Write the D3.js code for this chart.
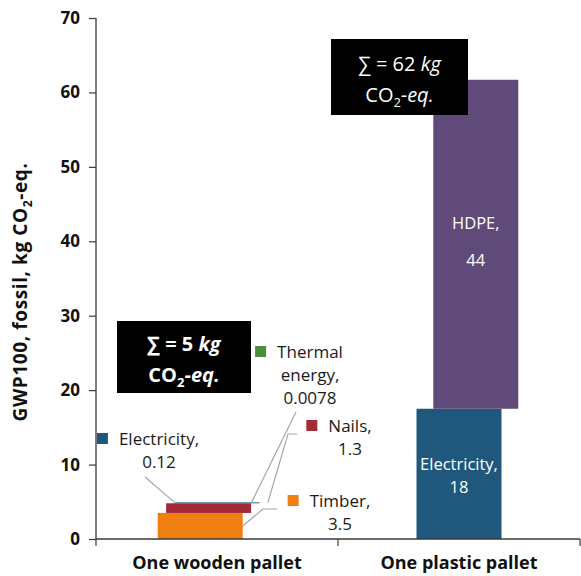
<!DOCTYPE html>
<html>
<head>
<meta charset="utf-8">
<script src="https://cdn.jsdelivr.net/npm/d3@7"></script>
<style>
  html, body { margin: 0; padding: 0; background: #ffffff; }
  svg { display: block; font-family: "Open Sans", "Noto Sans", sans-serif; }
</style>
</head>
<body>
<svg id="chart" width="581" height="576"></svg>
<script>
// ---------------- data ----------------
const categories = ["One wooden pallet", "One plastic pallet"];
const seriesNames = ["Timber", "Nails", "Electricity", "Thermal energy", "HDPE"];
const seriesColors = ["#EF7F10", "#A52A38", "#1F587C", "#4F8A3E", "#604A7A"];
const woodenValues = [3.5, 1.3, 0.12, 0.0078, 0];
const plasticValues = [0, 0, 17.5, 0, 44.2];
const totals = [5, 62];
const yTicks = [0, 10, 20, 30, 40, 50, 60, 70];
const yTitle = "GWP100, fossil, kg CO";

// ---------------- setup ----------------
const svg = d3.select("#chart");
const plot = { left: 96, right: 580, top: 18, bottom: 539 };
const y = d3.scaleLinear().domain([0, 70]).range([plot.bottom, plot.top]);
const x = d3.scaleBand().domain(categories).range([plot.left, plot.right]).paddingInner(0).paddingOuter(0);
const shift = d3.scalePoint().domain(seriesNames).range([-16.8, 16.8]);
const barW = 85;
const color = d3.scaleOrdinal().domain(seriesNames).range(seriesColors);

const table = categories.map((c, i) => {
  const row = { category: c };
  const vals = i === 0 ? woodenValues : plasticValues;
  seriesNames.forEach((s, j) => row[s] = vals[j]);
  return row;
});
const stacked = d3.stack().keys(seriesNames)(table);

const barX0 = (s, cat) => x(cat) + x.bandwidth() / 2 + shift(s) - barW / 2;

// bars
const layers = svg.append("g").selectAll("g").data(stacked).join("g")
  .attr("fill", d => color(d.key));
layers.selectAll("rect")
  .data(d => d.filter(p => p[1] - p[0] > 0).map(p => ({ key: d.key, p })))
  .join("rect")
  .attr("x", d => barX0(d.key, d.p.data.category))
  .attr("width", barW)
  .attr("y", d => y(d.p[1]))
  .attr("height", d => y(d.p[0]) - y(d.p[1]));

// ---------------- axes ----------------
const axisColor = "#3a3a3a";
const yAxis = svg.append("g").attr("transform", `translate(${plot.left},0)`)
  .call(d3.axisLeft(y).tickValues(yTicks).tickSize(7).tickPadding(9).tickFormat(d3.format("d")));
yAxis.select(".domain").attr("stroke", axisColor).attr("stroke-width", 1.3).attr("d", `M0,${plot.top}V${plot.bottom}`);
yAxis.selectAll(".tick line").attr("stroke", axisColor).attr("stroke-width", 1.2);
yAxis.selectAll(".tick text").attr("fill", "#111").attr("font-size", 17).attr("font-weight", "bold")
  .attr("font-family", "'Open Sans', sans-serif");

const xAxis = svg.append("g").attr("transform", `translate(0,${plot.bottom})`);
xAxis.append("line").attr("x1", plot.left).attr("x2", plot.right).attr("stroke", axisColor).attr("stroke-width", 1.3);
const xEdges = [x.range()[0], ...categories.slice(1).map(c => x(c)), x.range()[1]];
xAxis.selectAll(".xt").data(xEdges).join("line").attr("class", "xt")
  .attr("x1", d => d).attr("x2", d => d).attr("y1", 0).attr("y2", 7)
  .attr("stroke", axisColor).attr("stroke-width", 1.2);
xAxis.selectAll(".xl").data(categories).join("text").attr("class", "xl")
  .attr("x", d => x(d) + x.bandwidth() / 2).attr("y", 30)
  .attr("text-anchor", "middle").attr("font-size", 18).attr("font-weight", "bold").attr("fill", "#111")
  .text(d => d);

// y title
const yt = svg.append("text")
  .attr("transform", `translate(27,292) rotate(-90)`)
  .attr("text-anchor", "middle").attr("font-size", 19).attr("font-weight", "bold")
  .attr("letter-spacing", 0.6).attr("fill", "#111");
yt.append("tspan").text(yTitle);
yt.append("tspan").attr("font-size", 12).attr("dy", 5).text("2");
yt.append("tspan").attr("dy", -5).text("-eq.");

// ---------------- inside labels (plastic) ----------------
const fmtPlastic = d3.format(".0f");
const insideLayout = { "Electricity": { gap: 23, dy: 8 }, "HDPE": { gap: 37, dy: 3 } };
stacked.forEach(layer => {
  const p = layer[1];
  if (p[1] - p[0] <= 0) return;
  const cx = barX0(layer.key, p.data.category) + barW / 2;
  const cy = (y(p[0]) + y(p[1])) / 2;
  const L = insideLayout[layer.key];
  const t = svg.append("text").attr("text-anchor", "middle").attr("fill", "#ffffff").attr("font-size", 16.5);
  t.append("tspan").attr("x", cx).attr("y", cy + L.dy - L.gap / 2).text(layer.key + ",");
  t.append("tspan").attr("x", cx).attr("y", cy + L.dy + L.gap / 2).text(fmtPlastic(p[1] - p[0]));
});

// ---------------- outside labels (wooden) ----------------
const labelLayout = {
  "Electricity":    { cx: 159, y0: 445 },
  "Thermal energy": { cx: 310, y0: 358 },
  "Nails":          { cx: 350, y0: 432 },
  "Timber":         { cx: 340, y0: 507 }
};
const lineGap = 23;
const woodStack = stacked.map(l => ({ key: l.key, p: l[0] })).filter(d => d.p[1] - d.p[0] > 0);
woodStack.forEach(d => {
  const L = labelLayout[d.key];
  const words = d.key === "Thermal energy" ? ["Thermal", "energy,"] : [d.key + ","];
  const lines = [...words, String(+(d.p[1] - d.p[0]).toFixed(4))];
  const t = svg.append("text").attr("text-anchor", "middle").attr("fill", "#1a1a1a").attr("font-size", 17);
  lines.forEach((s, i) => t.append("tspan").attr("x", L.cx).attr("y", L.y0 + i * lineGap).text(s));
  const w = t.select("tspan").node().getComputedTextLength();
  svg.append("rect").attr("x", L.cx - w / 2 - 22).attr("y", L.y0 - 12).attr("width", 11).attr("height", 11)
    .attr("fill", color(d.key));
});

// leader lines
const wood = categories[0];
const seg = k => woodStack.find(d => d.key === k).p;
const leaderColor = "#a6a6a6";
const leaders = [
  [[145, 477], [barX0("Electricity", wood), y(seg("Electricity")[1])]],
  [[296, 412], [barX0("Nails", wood) + barW, y(seg("Nails")[1])]],
  [[297, 434], [288, 434], [barX0("Thermal energy", wood) + barW, y(seg("Thermal energy")[1])]],
  [[277, 509], [263, 509], [barX0("Timber", wood) + barW, (y(seg("Timber")[0]) + y(seg("Timber")[1])) / 2]]
];
svg.append("g").selectAll("path").data(leaders).join("path")
  .attr("d", d3.line()).attr("fill", "none").attr("stroke", leaderColor).attr("stroke-width", 1.2);

// ---------------- total boxes ----------------
const boxes = [
  { total: totals[0], x: 117, y: 321, w: 134, h: 72, bold: true },
  { total: totals[1], x: 331, y: 39, w: 137, h: 76, bold: false }
];
boxes.forEach(b => {
  svg.append("rect").attr("x", b.x).attr("y", b.y).attr("width", b.w).attr("height", b.h).attr("fill", "#000");
  const cx = b.x + b.w / 2;
  const fw = b.bold ? "bold" : "normal";
  const t1 = svg.append("text").attr("x", cx).attr("y", b.y + b.h / 2 - 6).attr("text-anchor", "middle")
    .attr("fill", "#fff").attr("font-size", 20).attr("font-weight", fw);
  t1.append("tspan").text(`∑ = ${b.total} `);
  t1.append("tspan").attr("font-style", "italic").text("kg");
  const t2 = svg.append("text").attr("x", cx).attr("y", b.y + b.h / 2 + 25).attr("text-anchor", "middle")
    .attr("fill", "#fff").attr("font-size", 20).attr("font-weight", fw);
  t2.append("tspan").text("CO");
  t2.append("tspan").attr("font-size", 13).attr("dy", 5).text("2");
  t2.append("tspan").attr("dy", -5).attr("font-style", "italic").text("-eq.");
});
</script>
</body>
</html>
